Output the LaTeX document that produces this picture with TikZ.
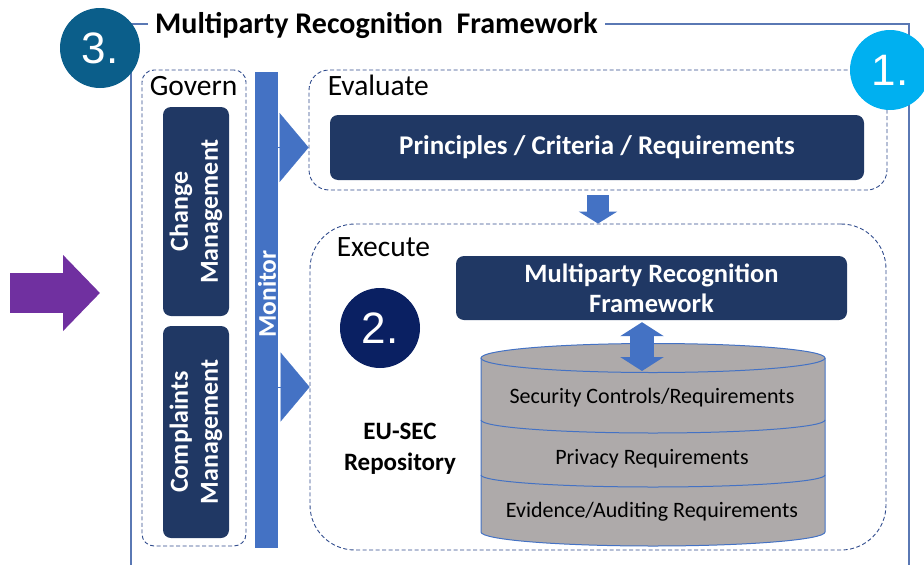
\documentclass[tikz,border=0pt]{standalone}
\usepackage{fontspec}
\setmainfont{Carlito}
\newfontfamily\numfont{Liberation Sans}
\usetikzlibrary{positioning,arrows.meta}
\definecolor{navybox}{HTML}{203864}
\definecolor{monblue}{HTML}{4472C4}
\definecolor{framecol}{HTML}{5A78B4}
\definecolor{dashcol}{HTML}{2F4B8C}
\definecolor{tealnum}{HTML}{0B5E8A}
\definecolor{cyannum}{HTML}{00B0F0}
\definecolor{darknum}{HTML}{0A2062}
\definecolor{purparrow}{HTML}{7030A0}
\definecolor{cylgrey}{HTML}{AEAAAA}

\begin{document}
\begin{tikzpicture}[x=1pt,y=-1pt,
    frame/.style={draw=framecol,line width=1.2pt},
    dashbox/.style={draw=dashcol,line width=0.9pt,dash pattern=on 4pt off 2.5pt,inner sep=0pt},
    darkbox/.style={fill=navybox,rounded corners=8pt,text=white,inner sep=0pt,align=center,
      font=\bfseries\fontsize{26.5}{30}\selectfont},
    vertbox/.style={darkbox,rotate=90,minimum height=66pt,font=\bfseries\fontsize{26}{30}\selectfont},
    lbl/.style={anchor=base west,inner sep=0pt,font=\fontsize{29.5}{33}\selectfont},
    numcircle/.style={circle,minimum size=80pt,inner sep=0pt,text=white,
      font=\numfont\fontsize{44}{44}\selectfont},
    cyltext/.style={inner sep=0pt,font=\fontsize{22}{24}\selectfont},
    monhead/.style={monblue,line width=0.1pt,-{Triangle[length=29pt,width=69pt]}},
    blockarrow/.style={monblue,line width=22pt,-{Triangle[length=12pt,width=38pt]}}]
  \useasboundingbox (0,0) rectangle (924,565);

  % outer frame with its title
  \draw[frame] (148,24) -- (131,24) -- (131,565);
  \draw[frame] (605,24) -- (909,24) -- (909,565);
  \node[anchor=base west,inner sep=0pt,font=\bfseries\fontsize{30}{33}\selectfont] (title)
    at (155,33) {Multiparty Recognition\ \ Framework};

  % incoming arrow
  \coordinate (inL) at (10,293);
  \coordinate (inR) at (100,293);
  \draw[purparrow,line width=40pt,-{Triangle[length=37pt,width=74pt]}] (inL) -- (inR);

  % govern
  \node[dashbox,rounded corners=12pt,minimum width=104pt,minimum height=476pt] (govbox) at (194,308) {};
  \node[lbl] (govlbl) at ([shift={(8pt,-26pt)}]govbox.north west) {Govern};
  \node[vertbox,minimum width=209pt] (change) at (196,211.5) {Change\\Management};
  \node[vertbox,minimum width=212pt] (complaints) at (196,432) {Complaints\\Management};

  % monitor
  \node[fill=monblue,minimum width=23pt,minimum height=476pt,inner sep=0pt] (monbar) at (266.5,310) {};
  \node[rotate=90,text=white,inner sep=0pt,font=\bfseries\fontsize{25.5}{28}\selectfont] (monlbl)
    at (267,294) {Monitor};

  % evaluate
  \node[dashbox,rounded corners=20pt,minimum width=578pt,minimum height=120pt] (evalbox) at (598,130) {};
  \node[lbl] (evallbl) at ([shift={(19pt,-26pt)}]evalbox.north west) {Evaluate};
  \node[darkbox,minimum width=534pt,minimum height=65pt,font=\bfseries\fontsize{27}{30}\selectfont] (pcr)
    at (597,147.5) {Principles / Criteria / Requirements};

  % execute
  \node[dashbox,rounded corners=45pt,minimum width=576pt,minimum height=326pt] (execbox) at (598,387) {};
  \node[lbl] (execlbl) at ([shift={(27pt,-33pt)}]execbox.north west) {Execute};
  \node[darkbox,minimum width=391pt,minimum height=64pt] (mrf) at (651.5,288)
    {Multiparty Recognition\\Framework};
  \node[inner sep=0pt,align=center,font=\bfseries\fontsize{25}{31}\selectfont] (eusec) at (400,449)
    {EU-SEC\\Repository};

  % repository cylinder
  \coordinate (cyltop) at (653,358);
  \fill[cylgrey] (481,358) -- (481,532) arc[start angle=180,end angle=360,x radius=172pt,y radius=14pt]
    -- (825,358) arc[start angle=0,end angle=180,x radius=172pt,y radius=14.5pt] -- cycle;
  \draw[monblue,line width=1pt] (481,358) -- (481,532) arc[start angle=180,end angle=360,x radius=172pt,y radius=14pt]
    -- (825,358);
  \draw[monblue,line width=1pt] (cyltop) ellipse[x radius=172pt,y radius=14.5pt];
  \draw[monblue,line width=1pt] (481,420) arc[start angle=180,end angle=360,x radius=172pt,y radius=13pt];
  \draw[monblue,line width=1pt] (481,475) arc[start angle=180,end angle=360,x radius=172pt,y radius=12pt];
  \node[cyltext] (sec) at (652,398) {Security Controls/Requirements};
  \node[cyltext] (priv) at (652,459) {Privacy Requirements};
  \node[cyltext] (evid) at (652,512) {Evidence/Auditing Requirements};

  % arrows between the parts
  \draw[monhead] (monbar.east |- pcr.west) -- (evalbox.west |- pcr.west);
  \draw[monhead] (monbar.east |- execbox.west) -- (execbox.west);
  \draw[blockarrow] ([yshift=-5pt]evalbox.south) -- (execbox.north);
  \coordinate (dbl) at (642,371);
  \draw[monblue,line width=24pt,{Triangle[length=14pt,width=43pt]}-{Triangle[length=14pt,width=43pt]}]
    ([yshift=-2pt]mrf.south -| dbl) -- (dbl);

  % numbered circles
  \node[numcircle,fill=tealnum] (n3) at (100,48) {3.};
  \node[numcircle,fill=cyannum] (n1) at (890,70) {1.};
  \node[numcircle,fill=darknum] (n2) at (380,328) {2.};
\end{tikzpicture}
\end{document}
